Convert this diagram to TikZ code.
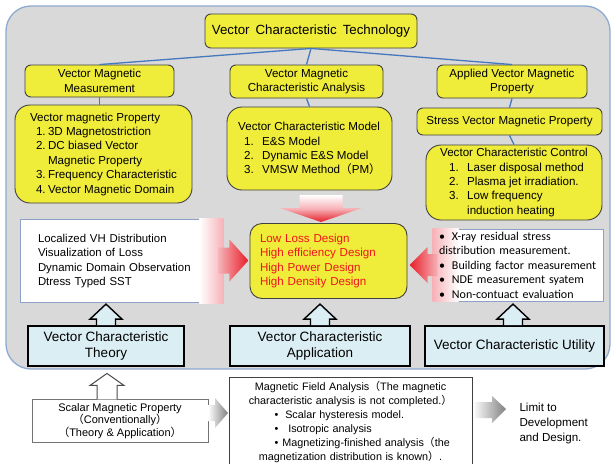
\documentclass[tikz,border=0pt]{standalone}
\usepackage{fontspec}
\setmainfont{Liberation Sans}
\newfontfamily\cjk{Noto Sans CJK SC}
\newfontfamily\calib{Carlito}
\newcommand\fwl{{\cjk （}}
\newcommand\fwr{{\cjk ）}}
\newcommand\fsz[2]{\fontsize{#1}{#2}\selectfont}
\newcommand\itm[2]{\hspace*{#1}\makebox[#2][l]}
\definecolor{yellowc}{RGB}{240,236,58}
\definecolor{redtext}{RGB}{240,20,30}
\definecolor{pinkc}{RGB}{246,178,184}
\definecolor{redc}{RGB}{232,30,40}
\definecolor{panelc}{RGB}{217,217,217}
\definecolor{panelb}{RGB}{141,170,210}
\definecolor{lblue}{RGB}{219,238,244}
\definecolor{linkb}{RGB}{70,120,190}
\definecolor{wborder}{RGB}{140,160,200}
\tikzset{
  ybox/.style={draw=black!75, fill=yellowc, line width=0.9, rounded corners=6, inner sep=2, align=center, font=\fsz{11.6}{14.5}},
  ybig/.style={ybox, rounded corners=15, align=left},
  bbox/.style={draw=black, fill=lblue, line width=1.8, inner sep=2, align=center, font=\fsz{13.5}{16.5}},
  hollow/.style={draw=black, fill=lblue, line width=1.4, line join=miter},
  link/.style={draw=linkb, line width=1.3},
  plainbox/.style={draw=black!55, fill=white, line width=0.8},
}
\begin{document}
\begin{tikzpicture}[x=1pt,y=-1pt]
\fill[white] (0,0) rectangle (612,463);
\useasboundingbox (0,0) rectangle (612,463);
% panel
\draw[rounded corners=25, fill=panelc, draw=panelb, line width=1.3] (6,6) rectangle (610,369);

% top level
\node[ybox, minimum width=212, minimum height=34, font=\fsz{13.3}{16}] (title) at (311,31) {Vector\, Characteristic\, Technology};
\node[ybox, minimum width=149, minimum height=32] (meas) at (99.5,81) {Vector Magnetic\\Measurement};
\node[ybox, minimum width=153, minimum height=33] (anal) at (306.5,81.5) {Vector Magnetic\\Characteristic Analysis};
\node[ybox, minimum width=150, minimum height=33] (appl) at (512,81.5) {Applied Vector Magnetic\\Property};

\node[ybig, minimum width=177, minimum height=98, font=\fsz{11.6}{14.4}] (prop) at (103.5,154) {Vector magnetic Property\\
\itm{6pt}{12pt}{1.}3D Magnetostriction\\
\itm{6pt}{12pt}{2.}DC biased Vector\\
\hspace*{18pt}Magnetic Property\\
\itm{6pt}{12pt}{3.}Frequency Characteristic\\
\itm{6pt}{12pt}{4.}Vector Magnetic Domain};

\node[ybig, minimum width=165, minimum height=83, font=\fsz{11.6}{14.2}] (model) at (309.5,148.5) {Vector Characteristic Model\\
\itm{6pt}{18pt}{1.}E\&S Model\\
\itm{6pt}{18pt}{2.}Dynamic E\&S Model\\
\itm{6pt}{18pt}{3.}VMSW Method\fwl PM\fwr};

\node[ybox, minimum width=185, minimum height=27] (stress) at (509.5,121.5) {Stress Vector Magnetic Property};

\node[ybig, minimum width=176, minimum height=75, font=\fsz{11.6}{14.3}] (ctrl) at (514,182.5) {Vector Characteristic Control\\
\itm{9pt}{18pt}{1.}Laser disposal method\\
\itm{9pt}{18pt}{2.}Plasma jet irradiation.\\
\itm{9pt}{18pt}{3.}Low frequency\\
\hspace*{27pt}induction heating};

% connectors
\draw[link] (title.south) -- (meas.north);
\draw[link] (title.south) -- (anal.north);
\draw[link] (title.south) -- (appl.north);
\draw[link] (meas.south) -- (prop.north -| meas.south);
\draw[link] (anal.south) -- (model.north);
\draw[link] (appl.south) -- (stress.north);
\draw[link] (stress.south) -- (ctrl.north);

% middle row
\node[draw=wborder, fill=white, line width=0.8, minimum width=203, minimum height=83, text width=167, inner xsep=18, align=left, font=\fsz{11.4}{14.4}] (thtext) at (121.5,261)
  {Localized VH Distribution\\Visualization of Loss\\Dynamic Domain Observation\\Dtress Typed SST};
\shade[left color=white, right color=pinkc] ([xshift=-24pt, yshift=0.4pt]thtext.north east) rectangle ([yshift=-0.4pt]thtext.south east);

\node[ybox, rounded corners=12, minimum width=157, minimum height=75, text width=137, inner xsep=10, align=left, text=redtext, font=\fsz{11.6}{14.4}] (design) at (328.5,261)
  {Low Loss Design\\High efficiency Design\\High Power Design\\High Density Design};

\node[draw=wborder, fill=white, line width=0.8, minimum width=170, minimum height=72, text width=158, inner xsep=6, align=left, font=\calib\fsz{12}{14.5}] (uttext) at (518,265)
  {\phantom{•}\\\phantom{d}\\\phantom{•}\\\phantom{•}\\\phantom{•}};
\shade[left color=pinkc, right color=white] ([yshift=0.4pt]uttext.north west) rectangle ([xshift=26pt, yshift=-0.4pt]uttext.south west);
\node[text width=158, inner sep=0, align=left, font=\calib\fsz{12}{14.5}] (uttxt) at (uttext.center)
  {•\hspace{7pt}X-ray residual stress\\distribution measurement.\\•\hspace{7pt}Building factor measurement\\•\hspace{7pt}NDE measurement syatem\\•\hspace{7pt}Non-contuact evaluation};

% red arrows
\shade[left color=pinkc, right color=redc] ([shift={(-5,-13.5)}]thtext.east) -- ++(11,0) -- ++(0,-8) -- ++(19,21) -- ++(-19,21) -- ++(0,-8) -- ++(-11,0) -- cycle;
\shade[left color=redc, right color=pinkc] ([shift={(5,-11)}]uttext.west) -- ++(-10,0) -- ++(0,-7) -- ++(-18,18) -- ++(18,18) -- ++(0,-7) -- ++(10,0) -- cycle;
\shade[top color=white, bottom color=redc, middle color=pinkc] ([shift={(-7.5,-1)}]design.north) -- ++(-41,-14) -- ++(19.5,0) -- ++(0,-13) -- ++(43,0) -- ++(0,13) -- ++(19.5,0) -- cycle;

% bottom blue boxes and hollow arrows
\node[bbox, minimum width=156, minimum height=40] (theory) at (106,346) {Vector Characteristic\\Theory};
\node[bbox, minimum width=180, minimum height=40] (app) at (320,346) {Vector Characteristic\\Application};
\node[bbox, minimum width=179, minimum height=40] (util) at (514.5,346) {Vector Characteristic Utility};

\draw[hollow] ([xshift=-9.5pt]theory.north) -- ++(0,-6) -- ++(-6.5,0) -- ++(16,-15) -- ++(16,15) -- ++(-6.5,0) -- ++(0,6);
\draw[hollow] ([xshift=-9.5pt]app.north) -- ++(0,-6) -- ++(-6.5,0) -- ++(16,-15) -- ++(16,15) -- ++(-6.5,0) -- ++(0,6);
\draw[hollow] ([xshift=-11pt]util.north) -- ++(0,-6) -- ++(-6.5,0) -- ++(16,-15) -- ++(16,15) -- ++(-6.5,0) -- ++(0,6);

% bottom area
\node[plainbox, minimum width=176, minimum height=38, align=center, font=\fsz{11}{11.5}] (scalar) at (120,421)
  {Scalar Magnetic Property\\\fwl Conventionally\fwr\\\fwl Theory \& Application\fwr};
\draw[hollow, fill=white, draw=black!70, line width=1] ([xshift=-23pt]scalar.north) -- ++(0,-14) -- ++(-7,0) -- ++(17,-12) -- ++(17,12) -- ++(-7,0) -- ++(0,14);

\node[plainbox, draw=black!75, minimum width=243, minimum height=86, text width=236, inner xsep=3.5, align=center, font=\fsz{10.8}{14}] (mfa) at (350.5,421.5)
  {Magnetic Field Analysis\fwl The magnetic\\
   characteristic analysis is not completed.\fwr\\
   \makebox[230pt][l]{\hspace*{39pt}•\hspace{7pt}Scalar hysteresis model.}\\
   \makebox[230pt][l]{\hspace*{39pt}•\hspace{10pt}Isotropic analysis}\\
   \makebox[230pt][l]{\hspace*{39pt}•\hspace{4pt}Magnetizing-finished analysis\fwl the}\\
   magnetization distribution is known\fwr.};

\shade[left color=white, right color=black!50] (208,405) -- (215,405) -- (215,398) -- (228,413) -- (215,428) -- (215,421) -- (208,421) -- cycle;
\shade[left color=white, right color=black!50] (473,402) -- (492,402) -- (492,396) -- (506,409) -- (492,423) -- (492,418) -- (473,418) -- cycle;

\node[anchor=west, align=left, font=\fsz{11.6}{15}] (limit) at (516,423) {Limit to\\Development\\and Design.};
\end{tikzpicture}
\end{document}
